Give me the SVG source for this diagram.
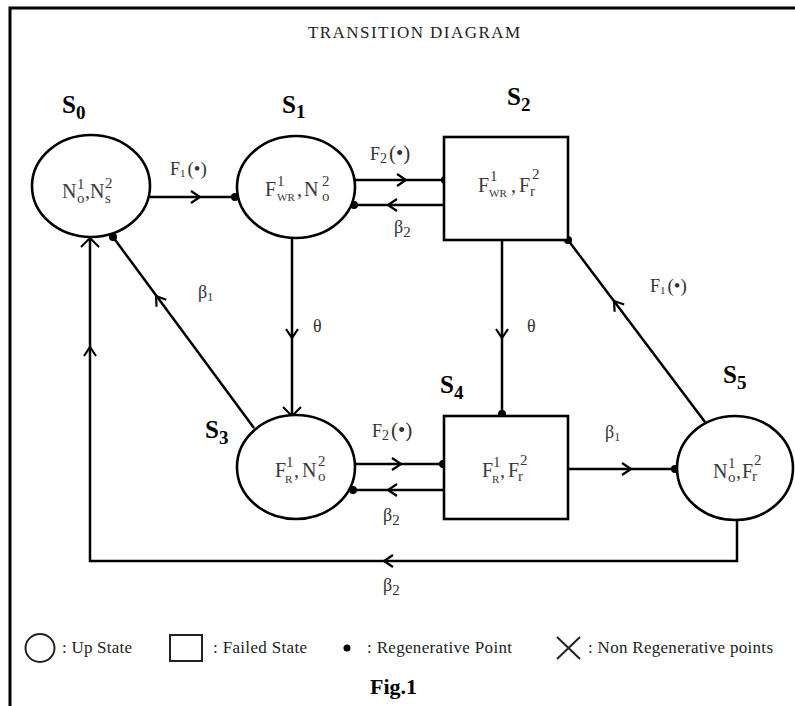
<svg xmlns="http://www.w3.org/2000/svg" xmlns:xlink="http://www.w3.org/1999/xlink" width="795" height="706" viewBox="0 0 795 706">
<style>
.ln{fill:none;stroke:#000;stroke-width:2.5}
.nd{fill:#fff;stroke:#000;stroke-width:2.6}
.tx{font-family:"Liberation Serif","Times New Roman",serif;fill:#3a3a3a;font-size:20px}
.sp{font-size:15px}
.sb{font-size:11px}
.sl{font-family:"Liberation Serif","Times New Roman",serif;font-weight:bold;font-size:25px;fill:#000}
.el{font-family:"Liberation Serif","Times New Roman",serif;font-size:18px;fill:#333}
.lg{font-family:"Liberation Serif","Times New Roman",serif;font-size:17px;fill:#222}
.dot{fill:#000}
</style>
<defs>
<path id="chev" d="M-9,-6 L0,0 L-9,6" fill="none" stroke="#000" stroke-width="2.2"/>
<path id="cross" d="M-9,-9 L9,9 M-9,9 L9,-9" fill="none" stroke="#000" stroke-width="2"/>
</defs>
<rect width="795" height="706" fill="#fff"/>
<path d="M10,706 L10,8 L795,8" fill="none" stroke="#000" stroke-width="3"/>
<text x="308" y="38" class="lg" textLength="212" fill="#111">TRANSITION DIAGRAM</text>

<g id="connectors">
<!-- S0 -> S1 -->
<path class="ln" d="M150,197 L237,197"/>
<use xlink:href="#chev" transform="translate(200,197)"/>
<circle class="dot" cx="235" cy="197" r="4"/>
<!-- S1 -> S2 -->
<path class="ln" d="M353,180 L444,180"/>
<use xlink:href="#chev" transform="translate(406,180)"/>
<circle class="dot" cx="445" cy="180" r="4"/>
<!-- S2 -> S1 -->
<path class="ln" d="M444,205 L353,205"/>
<use xlink:href="#chev" transform="translate(388,205) rotate(180)"/>
<circle class="dot" cx="354" cy="205" r="4"/>
<!-- S1 -> S3 -->
<path class="ln" d="M292,238 L292,416"/>
<use xlink:href="#chev" transform="translate(292,338) rotate(90)"/>
<use xlink:href="#cross" transform="translate(292,416)"/>
<!-- S2 -> S4 -->
<path class="ln" d="M502,240 L502,416"/>
<use xlink:href="#chev" transform="translate(502,338) rotate(90)"/>
<circle class="dot" cx="502" cy="414" r="4"/>
<!-- S3 -> S0 -->
<path class="ln" d="M254,428 L113,237"/>
<use xlink:href="#chev" transform="translate(156,296) rotate(-126.5)"/>
<circle class="dot" cx="113" cy="237" r="4"/>
<!-- S5 -> S2 -->
<path class="ln" d="M705,422 L568,240"/>
<use xlink:href="#chev" transform="translate(614,301) rotate(-127)"/>
<circle class="dot" cx="568" cy="240" r="4"/>
<!-- S3 -> S4 -->
<path class="ln" d="M355,464 L444,464"/>
<use xlink:href="#chev" transform="translate(401,464)"/>
<circle class="dot" cx="443" cy="464" r="4"/>
<!-- S4 -> S3 -->
<path class="ln" d="M444,490 L352,490"/>
<use xlink:href="#chev" transform="translate(388,490) rotate(180)"/>
<circle class="dot" cx="353" cy="490" r="4"/>
<!-- S4 -> S5 -->
<path class="ln" d="M568,469 L676,469"/>
<use xlink:href="#chev" transform="translate(631,469)"/>
<circle class="dot" cx="675" cy="469" r="4"/>
<!-- S5 -> S0 -->
<path class="ln" d="M737,520 L737,561 L90,561 L90,238"/>
<use xlink:href="#chev" transform="translate(384,561) rotate(180)"/>
<use xlink:href="#chev" transform="translate(90,347) rotate(-90)"/>
<use xlink:href="#cross" transform="translate(90,238)"/>
</g>

<g id="edge-labels">
<text class="el" x="170" y="175" font-size="17">F<tspan font-size="11" dy="2">1</tspan><tspan dy="-2" font-size="19" dx="2">(•)</tspan></text>
<text class="el" x="370" y="160" font-size="19">F<tspan font-size="14" dy="3">2</tspan><tspan dy="-3" font-size="21" dx="2">(•)</tspan></text>
<text class="el" x="394" y="233">β<tspan font-size="15" dy="4">2</tspan></text>
<text class="el" x="198" y="298">β<tspan font-size="12" dy="3">1</tspan></text>
<text class="el" x="313" y="332" font-size="17">θ</text>
<text class="el" x="527" y="332" font-size="17">θ</text>
<text class="el" x="650" y="292" font-size="17">F<tspan font-size="11" dy="2">1</tspan><tspan dy="-2" font-size="19" dx="2">(•)</tspan></text>
<text class="el" x="372" y="437" font-size="19">F<tspan font-size="14" dy="3">2</tspan><tspan dy="-3" font-size="21" dx="2">(•)</tspan></text>
<text class="el" x="383" y="521">β<tspan font-size="15" dy="4">2</tspan></text>
<text class="el" x="605" y="438">β<tspan font-size="12" dy="3">1</tspan></text>
<text class="el" x="383" y="591">β<tspan font-size="15" dy="4">2</tspan></text>
</g>

<g id="S0">
<ellipse class="nd" cx="91" cy="186" rx="59" ry="51"/>
<text class="sl" x="62" y="113">S<tspan font-size="19" dy="6">0</tspan></text>
<text class="tx"><tspan x="62" y="198">N</tspan><tspan class="sp" x="77" y="189">1</tspan><tspan class="sp" x="77" y="203">o</tspan><tspan x="85" y="198">,</tspan><tspan x="90" y="198">N</tspan><tspan class="sp" x="105" y="188">2</tspan><tspan class="sp" x="105" y="203">s</tspan></text>
</g>

<g id="S1">
<ellipse class="nd" cx="296" cy="187" rx="59" ry="51"/>
<text class="sl" x="282" y="113">S<tspan font-size="19" dy="5">1</tspan></text>
<text class="tx"><tspan x="265" y="196">F</tspan><tspan class="sp" x="277" y="186">1</tspan><tspan class="sb" x="277" y="201">WR</tspan><tspan x="297" y="196">,</tspan><tspan x="304" y="196">N</tspan><tspan class="sp" x="322" y="186">2</tspan><tspan class="sp" x="322" y="201">o</tspan></text>
</g>

<g id="S2">
<rect class="nd" x="444" y="137" width="124" height="103" stroke-width="3"/>
<text class="sl" x="507" y="105">S<tspan font-size="19" dy="6">2</tspan></text>
<text class="tx"><tspan x="478" y="192">F</tspan><tspan class="sp" x="490" y="181">1</tspan><tspan class="sb" x="489" y="197">WR</tspan><tspan x="511" y="192">,</tspan><tspan x="519" y="192">F</tspan><tspan class="sp" x="532" y="179">2</tspan><tspan class="sp" x="530" y="196">r</tspan></text>
</g>

<g id="S3">
<ellipse class="nd" cx="296" cy="467" rx="59" ry="52"/>
<text class="sl" x="205" y="438">S<tspan font-size="19" dy="6">3</tspan></text>
<text class="tx"><tspan x="275" y="477">F</tspan><tspan class="sp" x="286" y="467">1</tspan><tspan class="sb" x="285" y="483">R</tspan><tspan x="294" y="477">,</tspan><tspan x="302" y="477">N</tspan><tspan class="sp" x="318" y="466">2</tspan><tspan class="sp" x="318" y="481">o</tspan></text>
</g>

<g id="S4">
<rect class="nd" x="444" y="416" width="124" height="103" stroke-width="3"/>
<text class="sl" x="440" y="393">S<tspan font-size="19" dy="6">4</tspan></text>
<text class="tx"><tspan x="482" y="477">F</tspan><tspan class="sp" x="493" y="467">1</tspan><tspan class="sb" x="492" y="483">R</tspan><tspan x="500" y="477">,</tspan><tspan x="508" y="477">F</tspan><tspan class="sp" x="520" y="465">2</tspan><tspan class="sp" x="518" y="481">r</tspan></text>
</g>

<g id="S5">
<ellipse class="nd" cx="735" cy="468" rx="58" ry="52"/>
<text class="sl" x="723" y="383">S<tspan font-size="19" dy="6">5</tspan></text>
<text class="tx"><tspan x="713" y="478">N</tspan><tspan class="sp" x="728" y="468">1</tspan><tspan class="sp" x="728" y="482">o</tspan><tspan x="736" y="478">,</tspan><tspan x="742" y="478">F</tspan><tspan class="sp" x="754" y="465">2</tspan><tspan class="sp" x="752" y="481">r</tspan></text>
</g>

<g id="legend">
<ellipse cx="40" cy="648" rx="14.5" ry="14" fill="none" stroke="#222" stroke-width="2"/>
<text class="lg" x="62" y="653" textLength="70">: Up State</text>
<rect x="170" y="635" width="32" height="26" fill="none" stroke="#222" stroke-width="2"/>
<text class="lg" x="213" y="653" textLength="94">: Failed State</text>
<circle cx="347" cy="648" r="3.5" fill="#000"/>
<text class="lg" x="367" y="653" textLength="145">: Regenerative Point</text>
<path d="M557,637 L580,659 M557,659 L580,637" fill="none" stroke="#222" stroke-width="2"/>
<text class="lg" x="588" y="653" textLength="185">: Non Regenerative points</text>
<text x="370" y="694" textLength="47" font-family="Liberation Serif, Times New Roman, serif" font-weight="bold" font-size="22" fill="#000">Fig.1</text>
</g>
</svg>
